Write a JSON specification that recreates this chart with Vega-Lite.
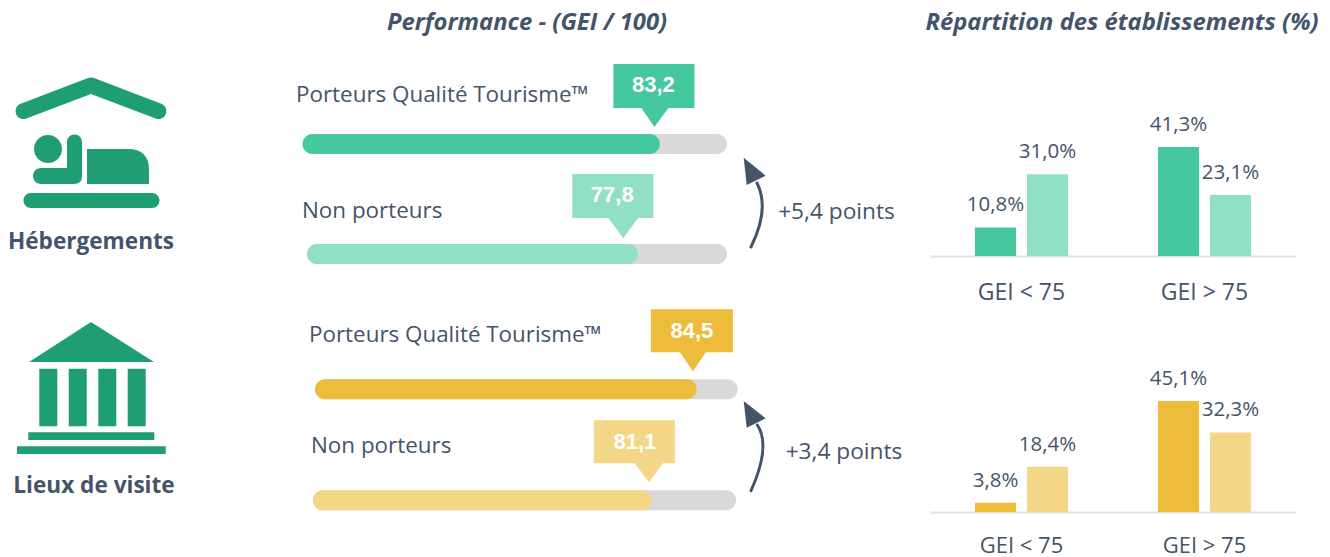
{
"$schema":"https://vega.github.io/schema/vega-lite/v6.json",
"padding":0,"background":"white","spacing":0,
"resolve":{"scale":{"color":"independent"}},
"config":{"view":{"stroke":null},"concat":{"spacing":0},"text":{"font":"Open Sans","fontSize":22.4,"color":"#44546A"},"axis":{"labelFont":"Open Sans"}},
"datasets":{
"categories":[{"categorie":"Hébergements","ecart":"+5,4 points"},{"categorie":"Lieux de visite","ecart":"+3,4 points"}],
"titres":[{"titre":"Performance - (GEI / 100)"},{"titre":"Répartition des établissements (%)"}],
"jauges":[
{"categorie":"Hébergements","groupe":"Porteurs Qualité Tourisme™","gei":"83,2","min":0,"max":100,"rempli":84.2,"pointe":82.9},
{"categorie":"Hébergements","groupe":"Non porteurs","gei":"77,8","min":0,"max":100,"rempli":78.8,"pointe":75.3},
{"categorie":"Lieux de visite","groupe":"Porteurs Qualité Tourisme™","gei":"84,5","min":0,"max":100,"rempli":90.3,"pointe":89.4},
{"categorie":"Lieux de visite","groupe":"Non porteurs","gei":"81,1","min":0,"max":100,"rempli":80.1,"pointe":79.4}],
"repartition":[
{"categorie":"Hébergements","groupe":"Porteurs","classe":"GEI < 75","part":10.8,"etiquette":"10,8%"},
{"categorie":"Hébergements","groupe":"Non porteurs","classe":"GEI < 75","part":31.0,"etiquette":"31,0%"},
{"categorie":"Hébergements","groupe":"Porteurs","classe":"GEI > 75","part":41.3,"etiquette":"41,3%"},
{"categorie":"Hébergements","groupe":"Non porteurs","classe":"GEI > 75","part":23.1,"etiquette":"23,1%"},
{"categorie":"Lieux de visite","groupe":"Porteurs","classe":"GEI < 75","part":3.8,"etiquette":"3,8%"},
{"categorie":"Lieux de visite","groupe":"Non porteurs","classe":"GEI < 75","part":18.4,"etiquette":"18,4%"},
{"categorie":"Lieux de visite","groupe":"Porteurs","classe":"GEI > 75","part":45.1,"etiquette":"45,1%"},
{"categorie":"Lieux de visite","groupe":"Non porteurs","classe":"GEI > 75","part":32.3,"etiquette":"32,3%"}]
},
"vconcat":[
{"width":1330,"height":45,"data":{"name":"titres"},
 "mark":{"type":"text","fontWeight":"bold","fontStyle":"italic","fontSize":23.8,"yOffset":0.5},
 "encoding":{"x":{"field":"titre","type":"nominal","axis":null,"sort":null,"scale":{"type":"point","padding":0,"domain":["Performance - (GEI / 100)","Répartition des établissements (%)"],"range":[527,1122]}},"text":{"field":"titre"}}},
{"spacing":0,"resolve":{"scale":{"color":"independent"}},"hconcat":[
 {"width":182,"height":260,"data":{"name":"categories"},"transform":[{"filter":"datum.categorie==='Hébergements'"}],
  "layer":[
  {"mark":{"type":"point","filled":true,"opacity":1,"size":4,"fill":"#1F9E75","stroke":null,"shape":"M-71,-71L-3,-97Q0,-98 3,-97L71,-71A8,8 0 0 1 66,-56L0,-81L-66,-56A8,8 0 0 1 -71,-71ZM-57,-26A14,14 0 1 1 -29,-26A14,14 0 1 1 -57,-26ZM-24,-33A7.5,7.5 0 0 1 -9,-33L-9,1Q-9,9 -17,9L-50,9A8,8 0 0 1 -50,-7L-24,-7ZM-4,-26L37,-26Q58,-26 58,-5L58,9L-4,9ZM-60,18L61,18A7.5,7.5 0 0 1 61,33L-60,33A7.5,7.5 0 0 1 -60,18Z"},"encoding":{}},
  {"mark":{"type":"text","fontWeight":"bold","fontSize":22.6,"yOffset":67},"encoding":{"text":{"field":"categorie"}}}]},
 {"spacing":0,"vconcat":[
  {"width":558,"height":115,"data":{"name":"jauges"},"transform":[{"filter":"datum.categorie==='Hébergements' && datum.groupe==='Porteurs Qualité Tourisme™'"}],
   "encoding":{"y":{"field":"groupe","type":"nominal","axis":null,"scale":{"type":"point","padding":0,"range":[99,99]}}},
   "layer":[
   {"mark":{"type":"bar","orient":"horizontal","height":20,"cornerRadius":10,"color":"#D9D9D9"},"encoding":{"x":{"field":"min","type":"quantitative","axis":null,"scale":{"domain":[0,100],"range":[120.5,545]}},"x2":{"field":"max"}}},
   {"mark":{"type":"bar","orient":"horizontal","height":20,"cornerRadius":10,"color":"#45C8A0"},"encoding":{"x":{"field":"min","type":"quantitative","axis":null},"x2":{"field":"rempli"}}},
   {"mark":{"type":"point","filled":true,"opacity":1,"size":4,"fill":"#45C8A0","stroke":null,"shape":"M-41,-80L40,-80L40,-36L14,-36L0,-17L-13,-36L-41,-36Z"},"encoding":{"x":{"field":"pointe","type":"quantitative","axis":null}}},
   {"mark":{"type":"text","font":"Liberation Sans","fontWeight":"bold","fontSize":22,"color":"white","yOffset":-59,"xOffset":-1},"encoding":{"x":{"field":"pointe","type":"quantitative","axis":null},"text":{"field":"gei"}}},
   {"mark":{"type":"text","align":"left","xOffset":-6.5,"yOffset":-49},"encoding":{"x":{"field":"min","type":"quantitative","axis":null},"text":{"field":"groupe"}}}]},
  {"width":558,"height":145,"data":{"name":"jauges"},"transform":[{"filter":"datum.categorie==='Hébergements' && datum.groupe==='Non porteurs'"}],
   "encoding":{"y":{"field":"groupe","type":"nominal","axis":null,"scale":{"type":"point","padding":0,"range":[94,94]}}},
   "layer":[
   {"mark":{"type":"bar","orient":"horizontal","height":20,"cornerRadius":10,"color":"#D9D9D9"},"encoding":{"x":{"field":"min","type":"quantitative","axis":null,"scale":{"domain":[0,100],"range":[125,545]}},"x2":{"field":"max"}}},
   {"mark":{"type":"bar","orient":"horizontal","height":20,"cornerRadius":10,"color":"#91DFC5"},"encoding":{"x":{"field":"min","type":"quantitative","axis":null},"x2":{"field":"rempli"}}},
   {"mark":{"type":"point","filled":true,"opacity":1,"size":4,"fill":"#91DFC5","stroke":null,"shape":"M-51,-80L30,-80L30,-36L15,-36L0,-16L-15,-36L-51,-36Z"},"encoding":{"x":{"field":"pointe","type":"quantitative","axis":null}}},
   {"mark":{"type":"text","font":"Liberation Sans","fontWeight":"bold","fontSize":22,"color":"white","yOffset":-59,"xOffset":-11},"encoding":{"x":{"field":"pointe","type":"quantitative","axis":null},"text":{"field":"gei"}}},
   {"mark":{"type":"text","align":"left","xOffset":-5,"yOffset":-43},"encoding":{"x":{"field":"min","type":"quantitative","axis":null},"text":{"field":"groupe"}}}]}
 ]},
 {"width":190,"height":260,"data":{"name":"categories"},"transform":[{"filter":"datum.categorie==='Hébergements'"}],
  "layer":[
  {"mark":{"type":"point","filled":false,"opacity":1,"size":4,"stroke":"#44546A","strokeWidth":3,"strokeCap":"round","shape":"M-84,72Q-65,34 -78,8"},"encoding":{}},
  {"mark":{"type":"point","filled":true,"opacity":1,"size":4,"fill":"#44546A","stroke":null,"shape":"M-91.3,-17.3L-69.3,0.7L-88.3,10Z"},"encoding":{}},
  {"mark":{"type":"text","fontSize":22.7,"xOffset":1.5,"yOffset":37},"encoding":{"text":{"field":"ecart"}}}]},
 {"width":366,"height":211,"data":{"name":"repartition"},"transform":[{"filter":"datum.categorie==='Hébergements'"}],
  "encoding":{
   "x":{"field":"classe","type":"nominal","sort":["GEI < 75","GEI > 75"],"scale":{"paddingInner":0,"paddingOuter":0},"axis":{"title":null,"ticks":false,"labelAngle":0,"labelFontSize":23,"labelColor":"#44546A","labelPadding":25,"domainColor":"#DEE4E8","domainWidth":2}},
   "xOffset":{"field":"groupe","type":"nominal","sort":["Porteurs","Non porteurs"],"scale":{"paddingInner":0.21,"paddingOuter":0.865}},
   "y":{"field":"part","type":"quantitative","axis":null,"stack":null,"scale":{"domain":[0,79.9]}}},
  "layer":[
  {"mark":{"type":"bar"},"encoding":{"color":{"field":"groupe","legend":null,"scale":{"domain":["Porteurs","Non porteurs"],"range":["#45C8A0","#91DFC5"]}}}},
  {"mark":{"type":"text","fontSize":20.5,"dy":-22},"encoding":{"text":{"field":"etiquette"}}}]}
]},
{"spacing":0,"resolve":{"scale":{"color":"independent"}},"hconcat":[
 {"width":182,"height":252,"data":{"name":"categories"},"transform":[{"filter":"datum.categorie==='Lieux de visite'"}],
  "layer":[
  {"mark":{"type":"point","filled":true,"opacity":1,"size":4,"fill":"#1F9E75","stroke":null,"shape":"M0,-109L63,-69L-62,-69ZM-51.7,-62.3L-33.7,-62.3L-33.7,-4.7L-51.7,-4.7ZM-22.3,-62.3L-4.3,-62.3L-4.3,-4.7L-22.3,-4.7ZM7.3,-62.3L25.3,-62.3L25.3,-4.7L7.3,-4.7ZM36.7,-62.3L54.7,-62.3L54.7,-4.7L36.7,-4.7ZM-62.7,1.3L63.3,1.3L63.3,9L-62.7,9ZM-74,15.3L74.7,15.3L74.7,23L-74,23Z"},"encoding":{}},
  {"mark":{"type":"text","fontWeight":"bold","fontSize":22.6,"xOffset":3,"yOffset":55},"encoding":{"text":{"field":"categorie"}}}]},
 {"spacing":0,"vconcat":[
  {"width":558,"height":100,"data":{"name":"jauges"},"transform":[{"filter":"datum.categorie==='Lieux de visite' && datum.groupe==='Porteurs Qualité Tourisme™'"}],
   "encoding":{"y":{"field":"groupe","type":"nominal","axis":null,"scale":{"type":"point","padding":0,"range":[84.3,84.3]}}},
   "layer":[
   {"mark":{"type":"bar","orient":"horizontal","height":20,"cornerRadius":10,"color":"#D9D9D9"},"encoding":{"x":{"field":"min","type":"quantitative","axis":null,"scale":{"domain":[0,100],"range":[133,555.7]}},"x2":{"field":"max"}}},
   {"mark":{"type":"bar","orient":"horizontal","height":20,"cornerRadius":10,"color":"#EDBC3B"},"encoding":{"x":{"field":"min","type":"quantitative","axis":null},"x2":{"field":"rempli"}}},
   {"mark":{"type":"point","filled":true,"opacity":1,"size":4,"fill":"#EDBC3B","stroke":null,"shape":"M-42,-80L40,-80L40,-37L13,-37L0,-18L-13,-37L-42,-37Z"},"encoding":{"x":{"field":"pointe","type":"quantitative","axis":null}}},
   {"mark":{"type":"text","font":"Liberation Sans","fontWeight":"bold","fontSize":22,"color":"white","yOffset":-58,"xOffset":-1},"encoding":{"x":{"field":"pointe","type":"quantitative","axis":null},"text":{"field":"gei"}}},
   {"mark":{"type":"text","align":"left","xOffset":-6,"yOffset":-54},"encoding":{"x":{"field":"min","type":"quantitative","axis":null},"text":{"field":"groupe"}}}]},
  {"width":558,"height":152,"data":{"name":"jauges"},"transform":[{"filter":"datum.categorie==='Lieux de visite' && datum.groupe==='Non porteurs'"}],
   "encoding":{"y":{"field":"groupe","type":"nominal","axis":null,"scale":{"type":"point","padding":0,"range":[95.3,95.3]}}},
   "layer":[
   {"mark":{"type":"bar","orient":"horizontal","height":20,"cornerRadius":10,"color":"#D9D9D9"},"encoding":{"x":{"field":"min","type":"quantitative","axis":null,"scale":{"domain":[0,100],"range":[131,554]}},"x2":{"field":"max"}}},
   {"mark":{"type":"bar","orient":"horizontal","height":20,"cornerRadius":10,"color":"#F4D688"},"encoding":{"x":{"field":"min","type":"quantitative","axis":null},"x2":{"field":"rempli"}}},
   {"mark":{"type":"point","filled":true,"opacity":1,"size":4,"fill":"#F4D688","stroke":null,"shape":"M-55,-80L26,-80L26,-37L14,-37L0,-18L-14,-37L-55,-37Z"},"encoding":{"x":{"field":"pointe","type":"quantitative","axis":null}}},
   {"mark":{"type":"text","font":"Liberation Sans","fontWeight":"bold","fontSize":22,"color":"white","yOffset":-58,"xOffset":-14},"encoding":{"x":{"field":"pointe","type":"quantitative","axis":null},"text":{"field":"gei"}}},
   {"mark":{"type":"text","align":"left","xOffset":-2,"yOffset":-54},"encoding":{"x":{"field":"min","type":"quantitative","axis":null},"text":{"field":"groupe"}}}]}
 ]},
 {"width":190,"height":252,"data":{"name":"categories"},"transform":[{"filter":"datum.categorie==='Lieux de visite'"}],
  "layer":[
  {"mark":{"type":"point","filled":false,"opacity":1,"size":4,"stroke":"#44546A","strokeWidth":3,"strokeCap":"round","shape":"M-84,59.7Q-63.8,14.6 -77.7,-6"},"encoding":{}},
  {"mark":{"type":"point","filled":true,"opacity":1,"size":4,"fill":"#44546A","stroke":null,"shape":"M-91.3,-30L-69.3,-12.7L-88.3,-3.3Z"},"encoding":{}},
  {"mark":{"type":"text","fontSize":22.7,"xOffset":9,"yOffset":21},"encoding":{"text":{"field":"ecart"}}}]},
 {"width":366,"height":207,"data":{"name":"repartition"},"transform":[{"filter":"datum.categorie==='Lieux de visite'"}],
  "encoding":{
   "x":{"field":"classe","type":"nominal","sort":["GEI < 75","GEI > 75"],"scale":{"paddingInner":0,"paddingOuter":0},"axis":{"title":null,"ticks":false,"labelAngle":0,"labelFontSize":22,"labelColor":"#44546A","labelPadding":23,"domainColor":"#DEE4E8","domainWidth":2}},
   "xOffset":{"field":"groupe","type":"nominal","sort":["Porteurs","Non porteurs"],"scale":{"paddingInner":0.21,"paddingOuter":0.865}},
   "y":{"field":"part","type":"quantitative","axis":null,"stack":null,"scale":{"domain":[0,84.1]}}},
  "layer":[
  {"mark":{"type":"bar"},"encoding":{"color":{"field":"groupe","legend":null,"scale":{"domain":["Porteurs","Non porteurs"],"range":["#EDBC3B","#F4D688"]}}}},
  {"mark":{"type":"text","fontSize":20.5,"dy":-22},"encoding":{"text":{"field":"etiquette"}}}]}
]}
]}
